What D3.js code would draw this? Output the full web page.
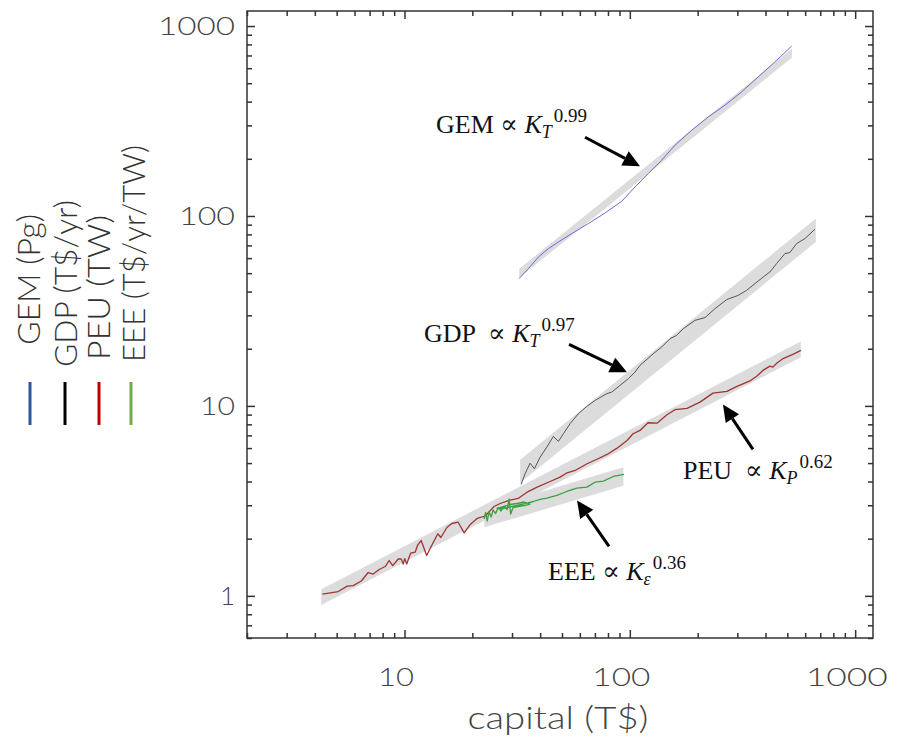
<!DOCTYPE html>
<html>
<head>
<meta charset="utf-8">
<script src="https://cdn.jsdelivr.net/npm/d3@7"></script>
<style>
body { margin: 0; background: #fff; }
svg { display: block; }
.axis text { font-family: "Lato", "Open Sans", sans-serif; font-weight: 300; fill: #444; }
.ann { font-family: "Liberation Serif", "DejaVu Serif", serif; fill: #111; white-space: pre; }
</style>
</head>
<body>
<div id="chart"></div>
<script>
// series (capital in T$, value in series units)
var gemCapital = [32.25, 35.47, 39.29, 43.50, 48.19, 55.25, 65.46, 77.62, 92.06, 105.4, 120.8, 138.5, 158.6, 188.2, 222.9, 264.4, 313.5, 371.4, 440.5, 522.4];
var gemValue = [46.80, 52.84, 60.81, 67.33, 72.95, 80.80, 91.20, 103.7, 119.5, 142.1, 167.3, 196.6, 235.8, 282.8, 332.4, 383.1, 450.1, 540.0, 647.6, 783.7];

var gdpCapital = [32.92, 34.29, 36.08, 37.71, 39.98, 42.81, 45.80, 48.19, 50.72, 54.30, 59.10, 64.42, 70.11, 78.99, 83.12, 90.48, 98.47, 105.4, 111.0, 127.1, 138.5, 150.8, 161.4, 172.7, 194.6, 215.6, 238.7, 269.0, 302.8, 329.9, 359.2, 390.8, 418.5, 448.1, 487.8, 513.3, 549.7, 598.4, 662.6];
var gdpValue = [3.858, 4.393, 4.995, 4.668, 5.373, 6.066, 6.908, 6.501, 7.136, 8.058, 9.097, 9.940, 10.69, 11.60, 11.82, 12.82, 13.91, 15.07, 16.35, 18.84, 20.41, 22.60, 23.52, 25.51, 28.22, 29.16, 32.52, 36.27, 38.21, 40.61, 44.04, 47.71, 50.70, 56.14, 63.38, 64.16, 71.55, 76.02, 85.11];

var peuCapital = [4.32, 5.08, 5.57, 5.92, 6.43, 6.90, 7.26, 7.72, 8.21, 8.55, 8.87, 9.38, 9.67, 9.87, 10.02, 10.23, 10.65, 11.16, 11.44, 11.86, 12.54, 13.27, 14.06, 14.50, 15.42, 16.23, 17.30, 18.40, 19.56, 21.01, 22.80, 24.99, 26.57, 29.13, 31.93, 33.60, 35.00, 38.78, 44.27, 49.03, 52.67, 57.15, 64.60, 72.28, 79.23, 87.77, 97.18, 103.3, 111.0, 120.4, 132.0, 146.2, 158.6, 179.4, 204.8, 233.9, 269.8, 298.8, 317.7, 341.2, 366.5, 389.6, 418.5, 431.5, 449.6, 477.9, 529.3, 574.3];
var peuValue = [1.022, 1.054, 1.126, 1.133, 1.197, 1.327, 1.303, 1.376, 1.427, 1.535, 1.444, 1.563, 1.566, 1.471, 1.572, 1.471, 1.681, 1.701, 1.852, 1.956, 1.631, 1.863, 2.122, 2.029, 2.291, 2.404, 2.442, 2.147, 2.375, 2.555, 2.633, 2.954, 3.064, 3.178, 3.256, 3.397, 3.514, 3.735, 4.001, 4.216, 4.447, 4.573, 4.961, 5.270, 5.553, 5.994, 6.580, 7.137, 7.429, 8.155, 8.117, 8.987, 9.550, 9.70, 10.47, 11.68, 11.92, 12.67, 13.06, 13.54, 14.36, 15.38, 16.21, 16.01, 16.81, 17.73, 18.68, 19.61];

var eeeCapital = [22.56, 22.92, 23.26, 23.74, 24.24, 24.74, 25.38, 26.04, 26.84, 27.68, 28.54, 29.13, 29.58, 30.34, 31.93, 33.95, 36.08, 33.95, 31.61, 29.42, 27.40, 25.77, 27.40, 29.42, 31.93, 35.00, 37.34, 39.98, 42.81, 47.41, 52.51, 58.15, 64.42, 70.11, 76.29, 84.52, 94.25];
var eeeValue = [2.539, 2.747, 2.478, 2.764, 2.602, 2.831, 2.714, 2.919, 2.797, 2.972, 2.849, 3.236, 2.698, 2.919, 2.954, 2.990, 3.045, 3.120, 3.064, 3.027, 2.954, 2.884, 2.884, 2.937, 3.008, 3.075, 3.139, 3.217, 3.268, 3.377, 3.544, 3.689, 3.735, 3.967, 4.016, 4.252, 4.356];

// power-law fit bands: [GEM, GDP, PEU, EEE]
var fitKStart = [32.3, 32.6, 4.27, 22.6];
var fitKEnd = [524, 669, 574, 93.6];
var fitVStart = [49.9, 4.52, 0.986, 2.57];
var fitVEnd = [720, 84.1, 19.85, 4.25];
var fitSpread = [1.056, 1.152, 1.10, 1.119];

var fitNames = ["GEM", "GDP", "PEU", "EEE"];
var fitSub = ["T", "T", "P", "ε"];
var fitExp = ["0.99", "0.97", "0.62", "0.36"];
// arrow tips in data units
var arrowK = [111, 97.2, 259, 58.3];
var arrowV = [182.7, 15.02, 10.18, 3.18];

var legendLabels = ["GEM (Pg)", "GDP (T$/yr)", "PEU (TW)", "EEE (T$/yr/TW)"];
var legendColors = ["#2f5597", "#000000", "#c00000", "#70ad47"];
var lineColors = ["#6b6bd6", "#555555", "#a03535", "#3f9f3f"];

var xTicks = [10, 100, 1000];
var yTicks = [1, 10, 100, 1000];

var W = 904, H = 740;
var margin = {top: 11, right: 31, bottom: 102, left: 247};
var width = W - margin.left - margin.right,
    height = H - margin.top - margin.bottom;

var svg = d3.select("#chart").append("svg")
    .attr("width", W)
    .attr("height", H);
var g = svg.append("g")
    .attr("transform", "translate(" + margin.left + "," + margin.top + ")");

var x = d3.scaleLog().domain([2, 1200]).range([0, width]);
var y = d3.scaleLog().domain([0.6, 1200]).range([height, 0]);

// bands
fitNames.forEach(function(n, i) {
  var poly = [
    [fitKStart[i], fitVStart[i] * fitSpread[i]],
    [fitKEnd[i], fitVEnd[i] * fitSpread[i]],
    [fitKEnd[i], fitVEnd[i] / fitSpread[i]],
    [fitKStart[i], fitVStart[i] / fitSpread[i]]
  ];
  g.append("path")
    .attr("d", "M" + poly.map(function(p) { return [x(p[0]), y(p[1])]; }).join("L") + "Z")
    .attr("fill", "#dcdcdc");
});

var line = d3.line()
    .x(function(d) { return x(d[0]); })
    .y(function(d) { return y(d[1]); });

var series = [
  d3.zip(gemCapital, gemValue),
  d3.zip(gdpCapital, gdpValue),
  d3.zip(peuCapital, peuValue),
  d3.zip(eeeCapital, eeeValue)
];
var widths = [1, 1, 1.3, 1.3];
series.forEach(function(s, i) {
  g.append("path")
    .datum(s)
    .attr("d", line)
    .attr("fill", "none")
    .attr("stroke", lineColors[i])
    .attr("stroke-width", widths[i])
    .attr("stroke-linejoin", "round");
});

// frame + ticks on all sides
function styleAxis(sel) {
  sel.select(".domain").remove();
  sel.selectAll(".tick line").attr("stroke", "#333").attr("stroke-width", 1.5);
}
var minor = x.ticks().filter(function(d) { return xTicks.indexOf(d) < 0; });
var minorY = y.ticks().filter(function(d) { return yTicks.indexOf(d) < 0; });

g.append("g").attr("class", "axis").attr("transform", "translate(0," + height + ")")
  .call(d3.axisBottom(x).tickValues(minor).tickSize(-5).tickFormat("")).call(styleAxis);
g.append("g").attr("class", "axis")
  .call(d3.axisTop(x).tickValues(minor).tickSize(-5).tickFormat("")).call(styleAxis);
g.append("g").attr("class", "axis")
  .call(d3.axisLeft(y).tickValues(minorY).tickSize(-5).tickFormat("")).call(styleAxis);
g.append("g").attr("class", "axis").attr("transform", "translate(" + width + ",0)")
  .call(d3.axisRight(y).tickValues(minorY).tickSize(-5).tickFormat("")).call(styleAxis);

var xLen = {10: 36, 100: 58, 1000: 82};
var yLen = {10: 35, 100: 56, 1000: 77};

var xAxis = g.append("g").attr("class", "axis").attr("transform", "translate(0," + height + ")")
  .call(d3.axisBottom(x).tickValues(xTicks).tickSize(-8).tickPadding(30).tickFormat(d3.format("d")))
  .call(styleAxis);
xAxis.selectAll(".tick text")
  .attr("font-size", 26)
  .attr("dx", -9)
  .attr("textLength", function(d) { return xLen[d]; })
  .attr("lengthAdjust", "spacingAndGlyphs");

g.append("g").attr("class", "axis")
  .call(d3.axisTop(x).tickValues(xTicks).tickSize(-8).tickFormat("")).call(styleAxis);

var yAxis = g.append("g").attr("class", "axis")
  .call(d3.axisLeft(y).tickValues(yTicks).tickSize(-8).tickPadding(12).tickFormat(d3.format("d")))
  .call(styleAxis);
yAxis.selectAll(".tick text")
  .attr("font-size", 26)
  .attr("textLength", function(d) { return yLen[d]; })
  .attr("lengthAdjust", "spacingAndGlyphs");

g.append("g").attr("class", "axis").attr("transform", "translate(" + width + ",0)")
  .call(d3.axisRight(y).tickValues(yTicks).tickSize(-8).tickFormat("")).call(styleAxis);

g.append("rect")
  .attr("width", width).attr("height", height)
  .attr("fill", "none").attr("stroke", "#333").attr("stroke-width", 1.5);

// x axis title
svg.append("text")
  .attr("class", "axis")
  .attr("x", 558).attr("y", 729)
  .attr("text-anchor", "middle")
  .attr("font-size", 32)
  .attr("textLength", 181)
  .attr("lengthAdjust", "spacingAndGlyphs")
  .style("font-family", "Lato, 'Open Sans', sans-serif")
  .style("font-weight", 300)
  .style("fill", "#444")
  .text("capital (T$)");

// rotated legend
var legX = [40, 77, 110, 145];
var legY = [345, 367, 360, 362];
var legLen = [131, 167, 145, 217];
var swX = [30, 65, 99, 131];
legendLabels.forEach(function(lab, i) {
  svg.append("text")
    .attr("transform", "translate(" + legX[i] + "," + legY[i] + ") rotate(-90)")
    .attr("font-size", 32)
    .attr("textLength", legLen[i])
    .attr("lengthAdjust", "spacingAndGlyphs")
    .style("font-family", "Lato, 'Open Sans', sans-serif")
    .style("font-weight", 300)
    .style("fill", "#333")
    .text(lab);
  svg.append("line")
    .attr("x1", swX[i]).attr("x2", swX[i])
    .attr("y1", 382).attr("y2", 425)
    .attr("stroke", legendColors[i]).attr("stroke-width", 3);
});

// annotations: offsets from the arrow tip (px)
var tailOff = [[-55, -29], [-58, -28], [30, 45], [32, 46]];
var textOff = [[-204, -33], [-203, -30], [-40, 75], [-29, 80]];
var gaps = [" ∝ ", "  ∝ ", "  ∝ ", " ∝ "];
fitNames.forEach(function(n, i) {
  var tx = x(arrowK[i]), ty = y(arrowV[i]);
  var sx = tx + tailOff[i][0], sy = ty + tailOff[i][1];
  var dx = tx - sx, dy = ty - sy, L = Math.sqrt(dx * dx + dy * dy);
  var ux = dx / L, uy = dy / L, hl = 17, hw = 8;
  var bx = tx - ux * hl, by = ty - uy * hl;
  g.append("line")
    .attr("x1", sx).attr("y1", sy).attr("x2", bx).attr("y2", by)
    .attr("stroke", "#000").attr("stroke-width", 3);
  g.append("path")
    .attr("d", "M" + tx + "," + ty + "L" + (bx - uy * hw) + "," + (by + ux * hw) +
      "L" + (bx + uy * hw) + "," + (by - ux * hw) + "Z")
    .attr("fill", "#000");

  var t = g.append("text").attr("class", "ann")
    .attr("x", tx + textOff[i][0]).attr("y", ty + textOff[i][1])
    .attr("font-size", 26);
  t.append("tspan").text(n + gaps[i]);
  t.append("tspan").attr("font-style", "italic").text("K");
  t.append("tspan").attr("font-style", "italic").attr("font-size", 18).attr("dy", 5).text(fitSub[i]);
  t.append("tspan").attr("font-size", 19).attr("dx", 2).attr("dy", -16).text(fitExp[i]);
});
</script>
</body>
</html>
